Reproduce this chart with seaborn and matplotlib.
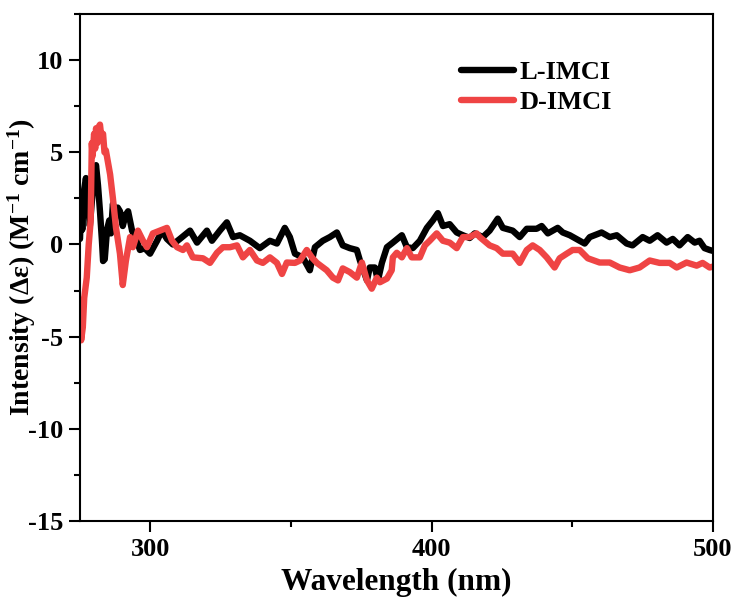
import matplotlib
matplotlib.use("Agg")
import matplotlib.pyplot as plt
from matplotlib.ticker import MultipleLocator
import seaborn as sns
import pandas as pd

# L-IMCI (black)
l_wavelength = [275.0, 275.4, 275.8, 276.5, 277.1, 277.8, 278.5, 279.3, 280.0, 280.7,
                281.4, 282.1, 282.8, 283.2, 283.8, 284.6, 285.4, 286.0, 286.7, 287.5,
                288.4, 289.2, 290.2, 291.2, 292.1, 293.5, 295.2, 296.3, 298.0, 299.9,
                302.4, 304.1, 305.9, 308.0, 310.5, 314.1, 316.6, 320.1, 321.9, 324.7,
                327.2, 329.4, 331.8, 335.4, 338.9, 342.5, 345.0, 347.8, 349.6, 351.4,
                354.2, 356.7, 358.5, 361.3, 363.8, 366.3, 368.4, 370.9, 373.4, 374.5,
                377.0, 378.0, 379.8, 380.9, 382.3, 384.1, 386.2, 389.4, 391.2, 393.3,
                395.8, 398.3, 400.4, 402.2, 404.0, 406.4, 408.9, 411.1, 413.5, 415.3,
                418.2, 420.6, 423.5, 425.3, 428.8, 431.3, 433.8, 437.3, 439.1, 441.3,
                444.8, 446.6, 449.1, 452.6, 454.4, 456.2, 460.4, 463.3, 465.8, 469.3,
                471.4, 475.0, 477.5, 480.3, 483.5, 485.7, 488.1, 491.0, 493.5, 495.2,
                497.0, 498.8, 500.0]
l_intensity = [0.3, 2.2, 0.8, 3.0, 3.6, 2.4, 1.0, 2.5, 3.8, 4.3,
               3.2, 1.8, 0.2, -0.9, -0.8, 0.8, 1.3, 0.6, 2.2, 1.6,
               2.0, 1.8, 1.0, 1.6, 1.8, 0.75, 0.2, -0.3, -0.2, -0.5,
               0.2, 0.75, 0.3, 0.0, 0.3, 0.75, 0.1, 0.75, 0.2, 0.75,
               1.2, 0.4, 0.5, 0.2, -0.2, 0.2, 0.05, 0.9, 0.4, -0.5,
               -0.7, -1.4, -0.15, 0.2, 0.4, 0.65, -0.05, -0.2, -0.3, -0.87,
               -1.95, -1.25, -1.25, -1.95, -1.0, -0.15, 0.1, 0.5, -0.15, -0.2,
               0.2, 0.9, 1.3, 1.7, 1.0, 1.1, 0.65, 0.5, 0.35, 0.6,
               0.4, 0.75, 1.4, 0.9, 0.75, 0.4, 0.85, 0.85, 1.0, 0.6,
               0.9, 0.65, 0.5, 0.2, 0.05, 0.4, 0.65, 0.4, 0.5, 0.05,
               -0.05, 0.4, 0.2, 0.5, 0.1, 0.3, -0.05, 0.4, 0.1, 0.2,
               -0.2, -0.3, -0.35]

# D-IMCI (red)
d_wavelength = [275.0, 275.4, 276.0, 276.5, 277.4, 278.1, 278.8, 279.2, 279.5, 280.0,
                280.4, 280.7, 281.2, 281.7, 282.1, 282.6, 283.2, 283.7, 284.2, 285.7,
                286.7, 287.8, 289.2, 290.2, 291.3, 292.8, 293.8, 295.6, 297.4, 298.8,
                300.9, 303.4, 305.9, 307.7, 309.5, 311.6, 313.0, 315.1, 318.7, 321.2,
                323.7, 325.8, 328.3, 330.8, 332.9, 335.4, 337.9, 340.0, 342.5, 345.0,
                346.8, 348.5, 351.4, 353.2, 355.6, 357.4, 359.2, 362.7, 364.9, 366.7,
                368.4, 370.9, 373.4, 375.2, 377.0, 378.7, 380.5, 381.6, 384.1, 385.8,
                386.2, 387.6, 389.4, 391.2, 392.9, 395.8, 397.6, 399.3, 401.8, 404.0,
                406.4, 408.9, 411.1, 413.5, 416.0, 417.1, 420.6, 423.1, 425.3, 428.8,
                431.3, 433.8, 435.9, 438.4, 440.9, 443.7, 445.5, 448.0, 450.1, 452.6,
                455.5, 459.7, 463.3, 466.8, 470.4, 473.9, 477.5, 481.0, 484.6, 487.1,
                490.6, 494.2, 496.3, 498.8, 500.0]
d_intensity = [-3.0, -5.2, -4.5, -2.9, -1.8, 0.0, 1.3, 5.5, 4.8, 6.0,
               5.2, 6.3, 5.5, 6.4, 6.5, 5.8, 6.0, 5.0, 5.1, 3.8,
               2.5, 0.9, -0.5, -2.2, -0.9, 0.4, -0.15, 0.75, 0.2, -0.15,
               0.6, 0.75, 0.9, 0.2, -0.15, -0.3, -0.05, -0.7, -0.75, -1.0,
               -0.45, -0.15, -0.15, -0.05, -0.7, -0.3, -0.87, -1.0, -0.7, -1.0,
               -1.6, -0.98, -1.0, -0.87, -0.3, -0.7, -1.0, -1.4, -1.8, -1.95,
               -1.3, -1.5, -1.8, -0.98, -1.95, -2.4, -1.8, -2.05, -1.85, -1.4,
               -0.7, -0.45, -0.7, -0.2, -0.7, -0.7, -0.05, 0.2, 0.6, 0.2,
               0.1, -0.2, 0.4, 0.4, 0.6, 0.4, -0.05, -0.2, -0.5, -0.5,
               -1.0, -0.3, -0.05, -0.3, -0.7, -1.25, -0.75, -0.5, -0.3, -0.3,
               -0.75, -0.98, -0.98, -1.25, -1.4, -1.25, -0.87, -1.0, -1.0, -1.25,
               -0.98, -1.15, -1.0, -1.25, -1.2]

series_names = ["L-IMCI", "D-IMCI"]
series_colors = ["#000000", "#EF4444"]
x_ticks = [300, 400, 500]
y_ticks = [10, 5, 0, -5, -10, -15]

sns.set_theme(style="ticks")
plt.rcParams["font.family"] = ["Liberation Serif", "DejaVu Serif"]
plt.rcParams["font.weight"] = "bold"
plt.rcParams["text.color"] = "black"
plt.rcParams["axes.labelcolor"] = "black"
plt.rcParams["xtick.color"] = "black"
plt.rcParams["ytick.color"] = "black"
plt.rcParams["axes.unicode_minus"] = False
plt.rcParams["mathtext.fontset"] = "custom"
plt.rcParams["mathtext.rm"] = "Liberation Serif:bold"
plt.rcParams["mathtext.bf"] = "Liberation Serif:bold"
plt.rcParams["mathtext.it"] = "Liberation Serif:bold"
plt.rcParams["mathtext.default"] = "bf"

df = pd.concat([
    pd.DataFrame({"Wavelength": l_wavelength, "Intensity": l_intensity, "Sample": series_names[0]}),
    pd.DataFrame({"Wavelength": d_wavelength, "Intensity": d_intensity, "Sample": series_names[1]}),
])

fig = plt.figure(figsize=(7.35, 5.99), dpi=100)
ax = fig.add_axes([80 / 735, 78 / 599, 633 / 735, 507 / 599])

sns.lineplot(data=df, x="Wavelength", y="Intensity", hue="Sample",
             palette=dict(zip(series_names, series_colors)), estimator=None,
             linewidth=4.6, ax=ax, legend=True)

ax.set_xlim(275, 500)
ax.set_ylim(-15, 12.5)
ax.set_xticks(x_ticks)
ax.set_yticks(y_ticks)
ax.xaxis.set_minor_locator(MultipleLocator(50))
ax.yaxis.set_minor_locator(MultipleLocator(2.5))
ax.tick_params(which="major", direction="out", length=8, width=1.5, labelsize=19, pad=4)
ax.tick_params(which="minor", direction="out", length=4, width=1.5)
for lab in ax.get_xticklabels() + ax.get_yticklabels():
    lab.set_fontweight("bold")
for s in ax.spines.values():
    s.set_linewidth(1.5)
    s.set_color("black")

ax.set_xlabel("Wavelength (nm)", fontsize=22.5, fontweight="bold")
ax.xaxis.set_label_coords(0.5, -0.093)
ax.set_ylabel("Intensity (Δε) (M$^{-1}$ cm$^{-1}$)", fontsize=20, fontweight="bold")
ax.yaxis.set_label_coords(-0.066, 0.5)

leg = ax.legend(loc="upper left", bbox_to_anchor=(0.565, 0.955), frameon=False,
                prop={"family": "Liberation Serif", "weight": "bold", "size": 19},
                handlelength=2.0, handletextpad=0.2, labelspacing=0.25)
for h in leg.get_lines():
    h.set_linewidth(4.6)
    h.set_solid_capstyle("round")

fig.savefig("out.png", dpi=100)
